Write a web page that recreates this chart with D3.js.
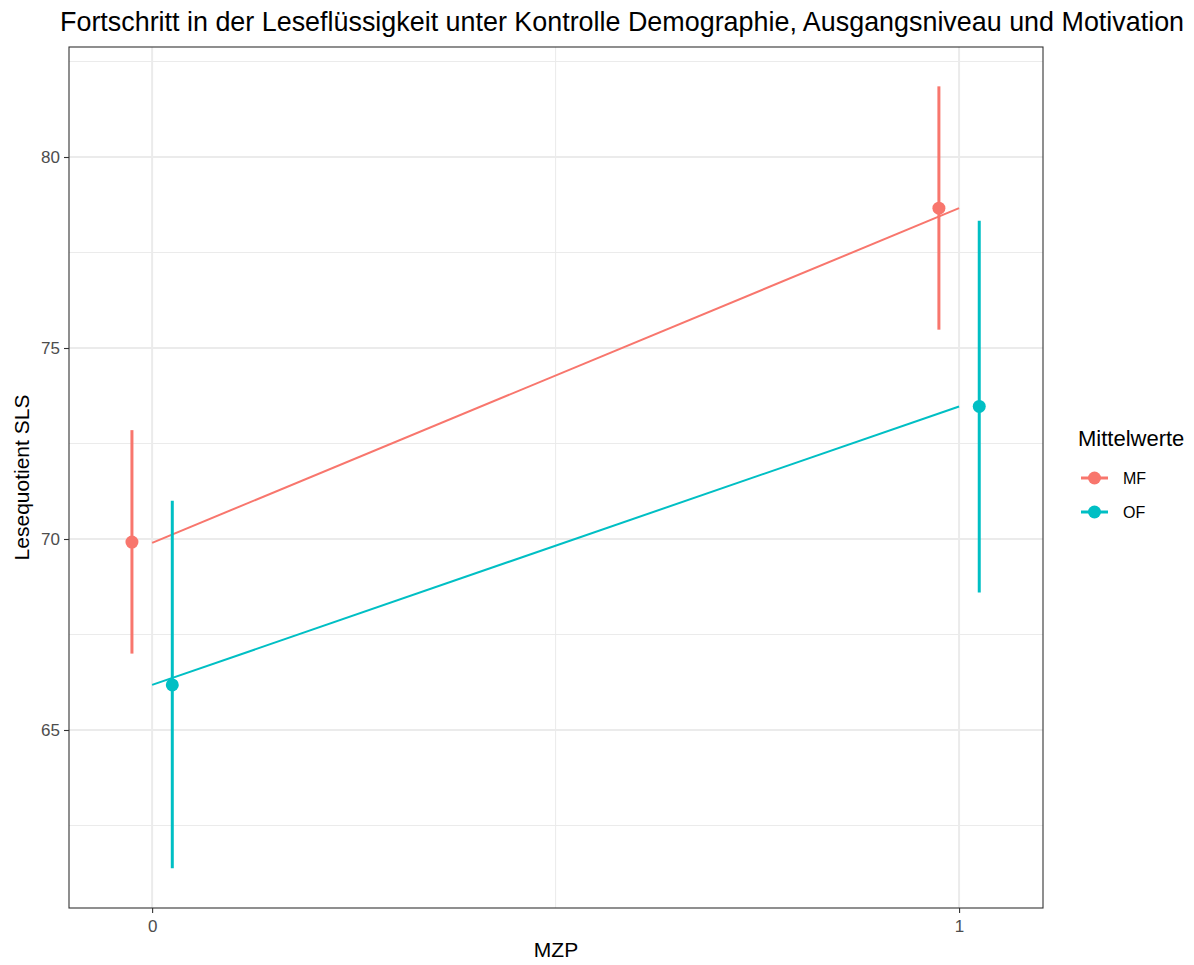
<!DOCTYPE html>
<html><head><meta charset="utf-8">
<script src="https://cdn.jsdelivr.net/npm/d3@7"></script>
<style>body{margin:0;background:#fff}svg{display:block}text{font-family:"Liberation Sans",Arial,Helvetica,sans-serif}</style>
</head><body>
<svg id="c" width="1194" height="965"></svg>
<script>
const groups = ["MF", "OF"];
const colors = ["#F8766D", "#00BFC4"];
const mzp = [0, 1];
const meanMF = [69.92, 78.66];
const lowerMF = [67.0, 75.48];
const upperMF = [72.85, 81.85];
const meanOF = [66.18, 73.47];
const lowerOF = [61.38, 68.6];
const upperOF = [71.0, 78.33];
const lineMF = [69.9, 78.66];
const lineOF = [66.18, 73.47];
const yTicks = [65, 70, 75, 80];
const yMinor = [62.5, 67.5, 72.5, 77.5, 82.5];
const xTicks = [0, 1];
const xMinor = [0.5];
const dodge = [-0.025, 0.025];

const series = [
  {name: groups[0], color: colors[0], mean: meanMF, lo: lowerMF, hi: upperMF, line: lineMF, dodge: dodge[0]},
  {name: groups[1], color: colors[1], mean: meanOF, lo: lowerOF, hi: upperOF, line: lineOF, dodge: dodge[1]}
];

const svg = d3.select("#c");
const L = 69, R = 1043, T = 47, B = 908;
const x = d3.scaleLinear().domain([-0.103, 1.104]).range([L, R]);
const y = d3.scaleLinear().domain([60.34, 82.88]).range([B, T]);

// grid
const g = svg.append("g");
g.selectAll(".ym").data(yMinor.filter(v => v > 60.34 && v < 82.88)).enter().append("line")
  .attr("x1", L).attr("x2", R).attr("y1", d => y(d)).attr("y2", d => y(d))
  .attr("stroke", "#EBEBEB").attr("stroke-width", 1);
g.selectAll(".xm").data(xMinor).enter().append("line")
  .attr("y1", T).attr("y2", B).attr("x1", d => x(d)).attr("x2", d => x(d))
  .attr("stroke", "#EBEBEB").attr("stroke-width", 1);
g.selectAll(".yM").data(yTicks).enter().append("line")
  .attr("x1", L).attr("x2", R).attr("y1", d => y(d)).attr("y2", d => y(d))
  .attr("stroke", "#EBEBEB").attr("stroke-width", 2);
g.selectAll(".xM").data(xTicks).enter().append("line")
  .attr("y1", T).attr("y2", B).attr("x1", d => x(d)).attr("x2", d => x(d))
  .attr("stroke", "#EBEBEB").attr("stroke-width", 2);

// regression lines
series.forEach(s => {
  svg.append("path")
    .attr("d", d3.line().x((d, i) => x(mzp[i])).y(d => y(d))(s.line))
    .attr("stroke", s.color).attr("stroke-width", 2).attr("fill", "none");
});
// error bars and points
series.forEach(s => {
  mzp.forEach((m, i) => {
    svg.append("line").attr("x1", x(m + s.dodge)).attr("x2", x(m + s.dodge))
      .attr("y1", y(s.lo[i])).attr("y2", y(s.hi[i]))
      .attr("stroke", s.color).attr("stroke-width", 3);
    svg.append("circle").attr("cx", x(m + s.dodge)).attr("cy", y(s.mean[i])).attr("r", 6.5)
      .attr("fill", s.color);
  });
});

// panel border
svg.append("rect").attr("x", L).attr("y", T).attr("width", R - L).attr("height", B - T)
  .attr("fill", "none").attr("stroke", "#333333").attr("stroke-width", 1.1);

// axes
const ya = svg.append("g").attr("transform", `translate(${L},0)`)
  .call(d3.axisLeft(y).tickValues(yTicks).tickFormat(d3.format("d")).tickSize(5).tickPadding(4));
const xa = svg.append("g").attr("transform", `translate(0,${B})`)
  .call(d3.axisBottom(x).tickValues(xTicks).tickFormat(d3.format("d")).tickSize(5).tickPadding(7));
[ya, xa].forEach(a => {
  a.select(".domain").remove();
  a.selectAll(".tick line").attr("stroke", "#333333").attr("stroke-width", 1.1);
  a.selectAll(".tick text").attr("fill", "#4D4D4D").style("font-size", "17px")
    .style("font-family", '"Liberation Sans", Arial, sans-serif');
});

// titles
svg.append("text").attr("x", 60).attr("y", 31).text("Fortschritt in der Leseflüssigkeit unter Kontrolle Demographie, Ausgangsniveau und Motivation")
  .style("font-size", "26.9px").attr("fill", "#000");
svg.append("text").attr("x", (L + R) / 2).attr("y", 957).attr("text-anchor", "middle")
  .text("MZP").style("font-size", "21px").attr("fill", "#000");
svg.append("text").attr("transform", `translate(29,${(T + B) / 2}) rotate(-90)`).attr("text-anchor", "middle")
  .text("Lesequotient SLS").style("font-size", "21px").attr("fill", "#000");

// legend
const lg = svg.append("g");
lg.append("text").attr("x", 1078).attr("y", 446).text("Mittelwerte").style("font-size", "22px").attr("fill", "#000");
series.forEach((s, i) => {
  const cy = 478 + i * 34;
  lg.append("line").attr("x1", 1081).attr("x2", 1108).attr("y1", cy).attr("y2", cy)
    .attr("stroke", s.color).attr("stroke-width", 3);
  lg.append("circle").attr("cx", 1094.5).attr("cy", cy).attr("r", 6.5).attr("fill", s.color);
  lg.append("text").attr("x", 1123).attr("y", cy + 6).text(s.name).style("font-size", "16px").attr("fill", "#000");
});
</script>
</body></html>
